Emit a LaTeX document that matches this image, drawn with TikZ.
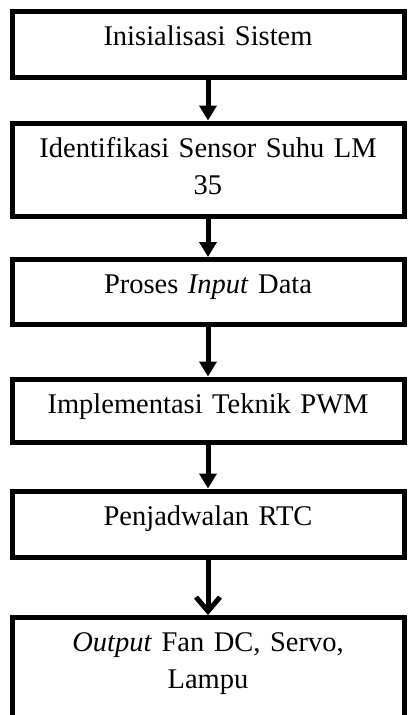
\documentclass[tikz,border=0pt]{standalone}
\usepackage{fontspec}
\setmainfont{Liberation Serif}
\usetikzlibrary{positioning}
\usetikzlibrary{arrows.meta}

\begin{document}
\begin{tikzpicture}[
            node distance=40pt,
            stepbox/.style={draw, line width=5pt, minimum width=392pt, text width=380pt,
                inner xsep=6pt, inner ysep=0pt, align=center,
                font=\fontsize{28.5pt}{37pt}\selectfont, text height=34pt},
            flow/.style={-{Triangle[length=15pt, width=17pt]}, line width=5pt},
            flow open/.style={-{Straight Barb[length=14pt, width=24pt]}, line width=5pt}
        ]

        \clip (0pt,0pt) rectangle (408pt,-715pt);

        \node[stepbox, text depth=32pt] (init) at (208pt,-44pt) {Inisialisasi Sistem};
        \node[stepbox, text depth=59pt, below=41pt of init] (sensor) {Identifikasi Sensor Suhu LM\\35};
        \node[stepbox, text depth=30.5pt, below=38.5pt of sensor] (input) {Proses \textit{Input} Data};
        \node[stepbox, text depth=29pt, below=50pt of input] (pwm) {Implementasi Teknik PWM};
        \node[stepbox, text depth=32.5pt, below=44pt of pwm] (rtc) {Penjadwalan RTC};
        \node[stepbox, text depth=86pt, below=55pt of rtc] (output) {\textit{Output} Fan DC, Servo,\\Lampu};

        \draw[flow] (init) -- (sensor);
        \draw[flow] (sensor) -- (input);
        \draw[flow] (input) -- (pwm);
        \draw[flow] (pwm) -- (rtc);
        \draw[flow open] (rtc) -- (output);
        \end{tikzpicture}
\end{document}
